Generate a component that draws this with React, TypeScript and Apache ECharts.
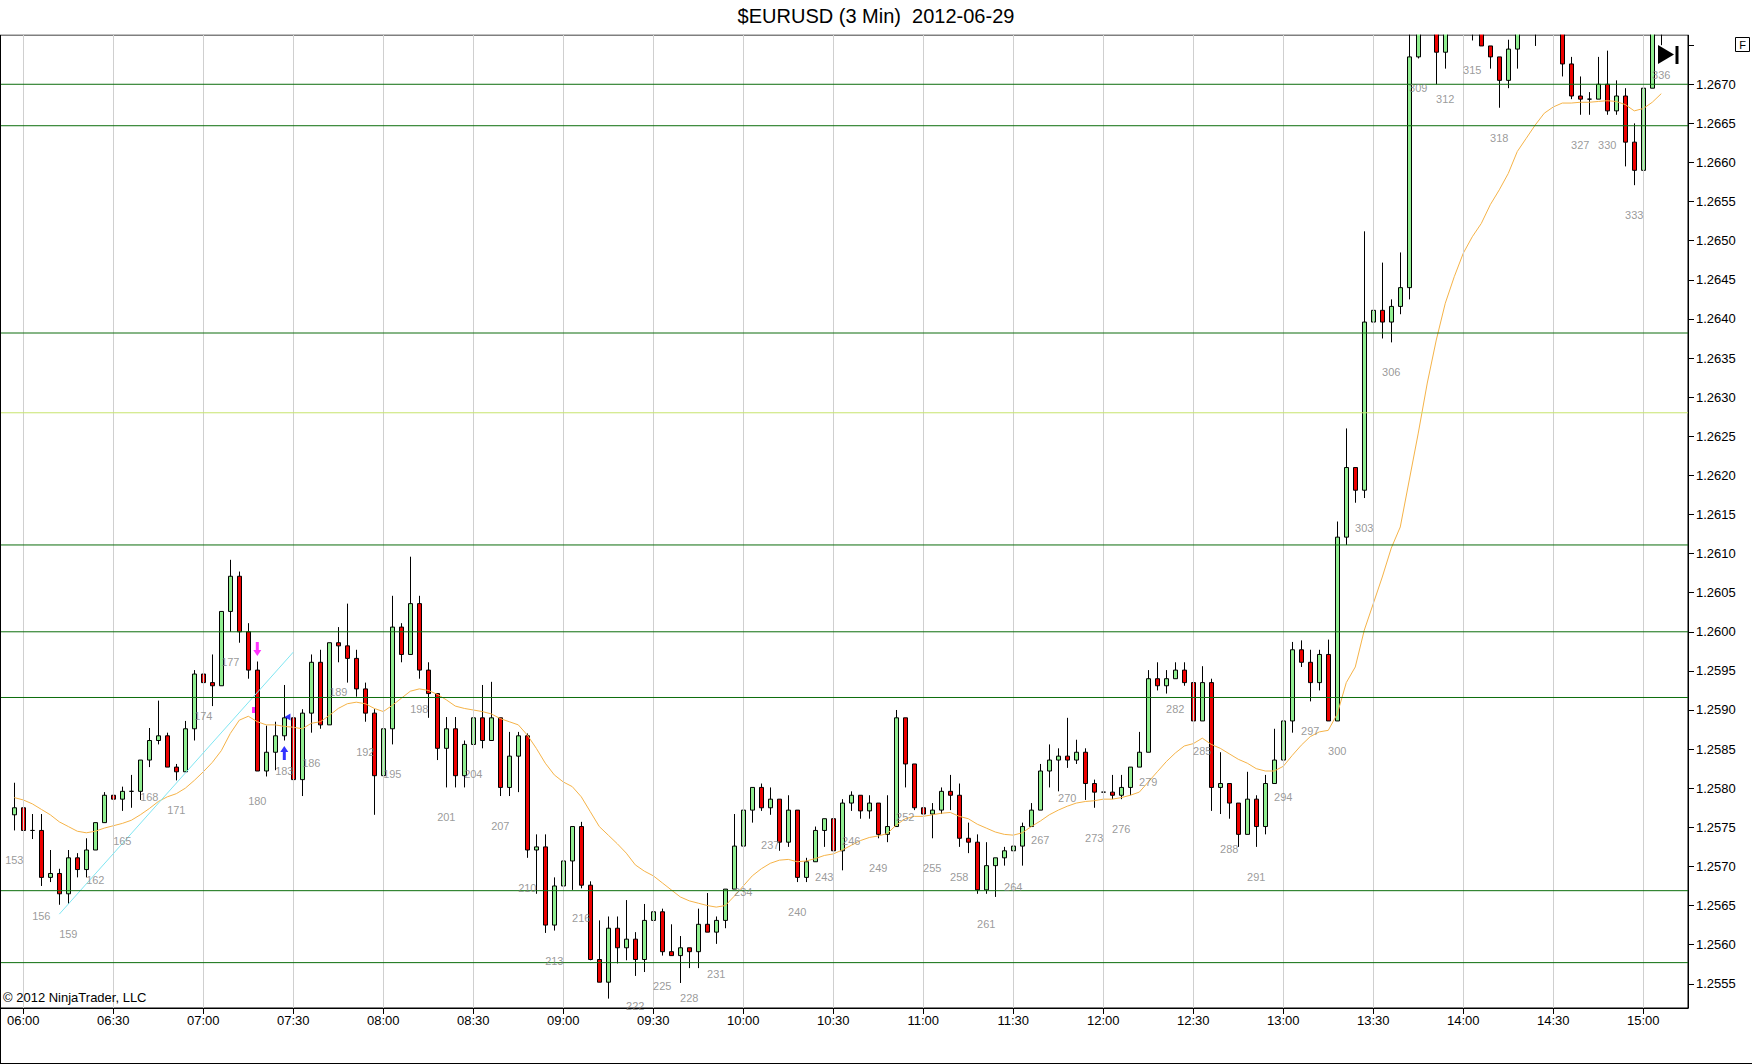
import React, { useEffect, useRef } from "react";
import * as echarts from "echarts";

// ---------- DATA ----------
const FIRST_BAR = 153;

const barOpen = [
  1.25766, 1.25775, 1.25746, 1.25746, 1.25686, 1.25691, 1.25665, 1.25711, 1.25696, 1.25721,
  1.25756, 1.25791, 1.25786, 1.25796, 1.25796, 1.25836, 1.25861, 1.25867, 1.25827, 1.25821,
  1.25876, 1.25946, 1.25935, 1.25931, 1.26026, 1.26071, 1.26000, 1.25951, 1.25822, 1.25846,
  1.25867, 1.25890, 1.25811, 1.25896, 1.25961, 1.25881, 1.25986, 1.25982, 1.25966, 1.25927,
  1.25896, 1.25816, 1.25876, 1.26006, 1.25971, 1.26036, 1.25951, 1.25921, 1.25851, 1.25876,
  1.25816, 1.25856, 1.25890, 1.25861, 1.25890, 1.25801, 1.25841, 1.25867, 1.25721, 1.25725,
  1.25625, 1.25675, 1.25707, 1.25751, 1.25676, 1.25581, 1.25552, 1.25621, 1.25596, 1.25607,
  1.25581, 1.25631, 1.25642, 1.25591, 1.25586, 1.25596, 1.25591, 1.25626, 1.25616, 1.25631,
  1.25671, 1.25726, 1.25772, 1.25801, 1.25775, 1.25786, 1.25731, 1.25772, 1.25686, 1.25706,
  1.25746, 1.25761, 1.25720, 1.25781, 1.25791, 1.25771, 1.25781, 1.25741, 1.25751, 1.25890,
  1.25831, 1.25775, 1.25767, 1.25772, 1.25796, 1.25791, 1.25736, 1.25731, 1.25670, 1.25701,
  1.25711, 1.25720, 1.25726, 1.25751, 1.25772, 1.25822, 1.25836, 1.25841, 1.25836, 1.25846,
  1.25806, 1.25795, 1.25795, 1.25791, 1.25801, 1.25827, 1.25846, 1.25940, 1.25931, 1.25940,
  1.25951, 1.25935, 1.25886, 1.25935, 1.25801, 1.25806, 1.25781, 1.25741, 1.25786, 1.25751,
  1.25806, 1.25836, 1.25886, 1.25977, 1.25961, 1.25935, 1.25971, 1.25886, 1.26121, 1.26210,
  1.26181, 1.26396, 1.26411, 1.26396, 1.26416, 1.26440, 1.26735, 1.26790, 1.26810, 1.26741,
  1.26780, 1.26800, 1.26790, 1.26775, 1.26749, 1.26735, 1.26705, 1.26745, 1.26765, 1.26780,
  1.26775, 1.26785, 1.26790, 1.26726, 1.26685, 1.26681, 1.26681, 1.26700, 1.26666, 1.26685,
  1.26626, 1.26590, 1.26695, 1.26770,
];

const barClose = [
  1.25775, 1.25746, 1.25746, 1.25686, 1.25691, 1.25665, 1.25711, 1.25696, 1.25721, 1.25756,
  1.25791, 1.25786, 1.25796, 1.25796, 1.25836, 1.25861, 1.25867, 1.25827, 1.25821, 1.25876,
  1.25946, 1.25935, 1.25931, 1.26026, 1.26071, 1.26000, 1.25951, 1.25822, 1.25846, 1.25867,
  1.25890, 1.25811, 1.25896, 1.25961, 1.25881, 1.25986, 1.25982, 1.25966, 1.25927, 1.25896,
  1.25816, 1.25876, 1.26006, 1.25971, 1.26036, 1.25951, 1.25921, 1.25851, 1.25876, 1.25816,
  1.25856, 1.25890, 1.25861, 1.25890, 1.25801, 1.25841, 1.25867, 1.25721, 1.25725, 1.25625,
  1.25675, 1.25707, 1.25751, 1.25676, 1.25581, 1.25552, 1.25621, 1.25596, 1.25607, 1.25581,
  1.25631, 1.25642, 1.25591, 1.25586, 1.25596, 1.25591, 1.25626, 1.25616, 1.25631, 1.25671,
  1.25726, 1.25772, 1.25801, 1.25775, 1.25786, 1.25731, 1.25772, 1.25686, 1.25706, 1.25746,
  1.25761, 1.25720, 1.25781, 1.25791, 1.25771, 1.25781, 1.25741, 1.25751, 1.25890, 1.25831,
  1.25775, 1.25767, 1.25772, 1.25796, 1.25791, 1.25736, 1.25731, 1.25670, 1.25701, 1.25711,
  1.25720, 1.25726, 1.25751, 1.25772, 1.25822, 1.25836, 1.25841, 1.25836, 1.25846, 1.25806,
  1.25795, 1.25795, 1.25791, 1.25801, 1.25827, 1.25846, 1.25940, 1.25931, 1.25940, 1.25951,
  1.25935, 1.25886, 1.25935, 1.25801, 1.25806, 1.25781, 1.25741, 1.25786, 1.25751, 1.25806,
  1.25836, 1.25886, 1.25977, 1.25961, 1.25935, 1.25971, 1.25886, 1.26121, 1.26210, 1.26181,
  1.26396, 1.26411, 1.26396, 1.26416, 1.26440, 1.26735, 1.26790, 1.26810, 1.26741, 1.26780,
  1.26800, 1.26790, 1.26775, 1.26749, 1.26735, 1.26705, 1.26745, 1.26765, 1.26780, 1.26775,
  1.26785, 1.26790, 1.26726, 1.26685, 1.26681, 1.26681, 1.26700, 1.26666, 1.26685, 1.26626,
  1.26590, 1.26695, 1.26770, 1.26780,
];

const barHigh = [
  1.25807, 1.25776, 1.25767, 1.25767, 1.25721, 1.25697, 1.25721, 1.25717, 1.25736, 1.25756,
  1.25795, 1.25822, 1.25802, 1.25817, 1.25836, 1.25877, 1.25912, 1.25871, 1.25831, 1.25886,
  1.25951, 1.26000, 1.25971, 1.26026, 1.26092, 1.26077, 1.26011, 1.25962, 1.25880, 1.25885,
  1.25932, 1.25893, 1.25901, 1.25971, 1.25977, 1.25986, 1.26006, 1.26036, 1.25977, 1.25935,
  1.25901, 1.25900, 1.26046, 1.26011, 1.26096, 1.26046, 1.25961, 1.25921, 1.25891, 1.25891,
  1.25861, 1.25902, 1.25932, 1.25936, 1.25890, 1.25872, 1.25872, 1.25870, 1.25741, 1.25741,
  1.25686, 1.25717, 1.25751, 1.25757, 1.25681, 1.25631, 1.25636, 1.25636, 1.25657, 1.25616,
  1.25652, 1.25677, 1.25646, 1.25626, 1.25611, 1.25596, 1.25646, 1.25666, 1.25636, 1.25671,
  1.25767, 1.25781, 1.25801, 1.25806, 1.25801, 1.25786, 1.25791, 1.25772, 1.25711, 1.25751,
  1.25761, 1.25772, 1.25786, 1.25796, 1.25791, 1.25791, 1.25781, 1.25791, 1.25900, 1.25890,
  1.25831, 1.25791, 1.25781, 1.25801, 1.25817, 1.25806, 1.25756, 1.25741, 1.25731, 1.25711,
  1.25725, 1.25741, 1.25756, 1.25781, 1.25831, 1.25856, 1.25851, 1.25890, 1.25862, 1.25851,
  1.25811, 1.25806, 1.25817, 1.25817, 1.25827, 1.25872, 1.25951, 1.25961, 1.25951, 1.25961,
  1.25961, 1.25940, 1.25956, 1.25940, 1.25846, 1.25806, 1.25781, 1.25821, 1.25791, 1.25817,
  1.25876, 1.25891, 1.25987, 1.25989, 1.25977, 1.25977, 1.25990, 1.26141, 1.26260, 1.26210,
  1.26512, 1.26467, 1.26472, 1.26425, 1.26485, 1.26775, 1.26800, 1.26830, 1.26820, 1.26790,
  1.26815, 1.26820, 1.26800, 1.26785, 1.26749, 1.26735, 1.26757, 1.26775, 1.26790, 1.26795,
  1.26800, 1.26805, 1.26800, 1.26735, 1.26710, 1.26690, 1.26735, 1.26743, 1.26705, 1.26695,
  1.26650, 1.26721, 1.26780, 1.26790,
];

const barLow = [
  1.25746, 1.25741, 1.25735, 1.25675, 1.25680, 1.25651, 1.25652, 1.25686, 1.25686, 1.25721,
  1.25756, 1.25775, 1.25771, 1.25775, 1.25785, 1.25827, 1.25856, 1.25827, 1.25810, 1.25821,
  1.25861, 1.25931, 1.25905, 1.25931, 1.26000, 1.25986, 1.25940, 1.25822, 1.25815, 1.25823,
  1.25861, 1.25806, 1.25790, 1.25871, 1.25876, 1.25881, 1.25961, 1.25935, 1.25917, 1.25885,
  1.25766, 1.25810, 1.25856, 1.25961, 1.25971, 1.25940, 1.25890, 1.25836, 1.25801, 1.25801,
  1.25801, 1.25856, 1.25851, 1.25861, 1.25790, 1.25790, 1.25795, 1.25711, 1.25665, 1.25615,
  1.25618, 1.25670, 1.25670, 1.25672, 1.25580, 1.25552, 1.25531, 1.25576, 1.25580, 1.25560,
  1.25565, 1.25616, 1.25586, 1.25586, 1.25551, 1.25570, 1.25570, 1.25616, 1.25601, 1.25621,
  1.25671, 1.25706, 1.25756, 1.25771, 1.25766, 1.25720, 1.25725, 1.25680, 1.25680, 1.25706,
  1.25725, 1.25701, 1.25695, 1.25771, 1.25761, 1.25761, 1.25736, 1.25731, 1.25751, 1.25801,
  1.25772, 1.25756, 1.25736, 1.25767, 1.25772, 1.25725, 1.25717, 1.25665, 1.25665, 1.25661,
  1.25701, 1.25712, 1.25701, 1.25751, 1.25772, 1.25801, 1.25796, 1.25826, 1.25831, 1.25785,
  1.25775, 1.25781, 1.25786, 1.25786, 1.25791, 1.25827, 1.25846, 1.25925, 1.25921, 1.25940,
  1.25931, 1.25866, 1.25886, 1.25771, 1.25767, 1.25761, 1.25725, 1.25741, 1.25725, 1.25741,
  1.25806, 1.25827, 1.25871, 1.25955, 1.25911, 1.25925, 1.25886, 1.25886, 1.26111, 1.26165,
  1.26171, 1.26374, 1.26375, 1.26370, 1.26406, 1.26425, 1.26733, 1.26775, 1.26700, 1.26720,
  1.26770, 1.26775, 1.26756, 1.26749, 1.26720, 1.26670, 1.26695, 1.26720, 1.26765, 1.26749,
  1.26768, 1.26774, 1.26710, 1.26681, 1.26661, 1.26661, 1.26681, 1.26661, 1.26661, 1.26595,
  1.26571, 1.26579, 1.26695, 1.26750,
];

const maValues = [
  1.25788, 1.25785, 1.25780, 1.25773, 1.25766, 1.25757, 1.25751, 1.25745, 1.25743, 1.25745,
  1.25749, 1.25752, 1.25755, 1.25759, 1.25766, 1.25774, 1.25783, 1.25789, 1.25793, 1.25800,
  1.25810, 1.25821, 1.25833, 1.25848, 1.25870, 1.25887, 1.25892, 1.25885, 1.25881, 1.25881,
  1.25879, 1.25878, 1.25876, 1.25883, 1.25885, 1.25893, 1.25902, 1.25908, 1.25910, 1.25908,
  1.25902, 1.25898, 1.25906, 1.25915, 1.25924, 1.25927, 1.25925, 1.25920, 1.25913, 1.25905,
  1.25902, 1.25900, 1.25898, 1.25895, 1.25889, 1.25885, 1.25881, 1.25868, 1.25851, 1.25832,
  1.25817, 1.25808, 1.25802, 1.25789, 1.25770, 1.25751, 1.25740, 1.25729, 1.25717, 1.25702,
  1.25694, 1.25688, 1.25679, 1.25670, 1.25661, 1.25656, 1.25653, 1.25650, 1.25648, 1.25650,
  1.25662, 1.25675, 1.25688, 1.25697, 1.25704, 1.25708, 1.25709, 1.25706, 1.25707, 1.25710,
  1.25714, 1.25716, 1.25721, 1.25727, 1.25733, 1.25737, 1.25739, 1.25742, 1.25753, 1.25761,
  1.25764, 1.25764, 1.25766, 1.25768, 1.25769, 1.25764, 1.25761, 1.25754, 1.25749, 1.25744,
  1.25741, 1.25740, 1.25743, 1.25751, 1.25758, 1.25766, 1.25772, 1.25777, 1.25781, 1.25783,
  1.25784, 1.25786, 1.25786, 1.25788, 1.25791, 1.25795, 1.25808, 1.25821, 1.25834, 1.25845,
  1.25854, 1.25857, 1.25864, 1.25856, 1.25851, 1.25844, 1.25837, 1.25832, 1.25825, 1.25822,
  1.25822, 1.25828, 1.25842, 1.25855, 1.25866, 1.25872, 1.25874, 1.25895, 1.25935, 1.25955,
  1.26002, 1.26036, 1.26070, 1.26107, 1.26134, 1.26194, 1.26254, 1.26318, 1.26373, 1.26420,
  1.26454, 1.26484, 1.26505, 1.26522, 1.26546, 1.26565, 1.26586, 1.26614, 1.26631, 1.26648,
  1.26663, 1.26671, 1.26676, 1.26676, 1.26677, 1.26677, 1.26678, 1.26679, 1.26678, 1.26674,
  1.26666, 1.26669, 1.26677, 1.26688,
];

// time axis: bar number of each half hour and its label
const gridBars = [154, 164, 174, 184, 194, 204, 214, 224, 234, 244, 254, 264, 274, 284, 294, 304, 314, 324, 334];
const timeLabels = ["06:00", "06:30", "07:00", "07:30", "08:00", "08:30", "09:00", "09:30", "10:00", "10:30",
  "11:00", "11:30", "12:00", "12:30", "13:00", "13:30", "14:00", "14:30", "15:00"];

// price axis
const yTickValues = [1.2555, 1.2560, 1.2565, 1.2570, 1.2575, 1.2580, 1.2585, 1.2590, 1.2595, 1.2600,
  1.2605, 1.2610, 1.2615, 1.2620, 1.2625, 1.2630, 1.2635, 1.2640, 1.2645, 1.2650, 1.2655, 1.2660,
  1.2665, 1.2670, 1.2675];
const yLabelValues = [1.2555, 1.2560, 1.2565, 1.2570, 1.2575, 1.2580, 1.2585, 1.2590, 1.2595, 1.2600,
  1.2605, 1.2610, 1.2615, 1.2620, 1.2625, 1.2630, 1.2635, 1.2640, 1.2645, 1.2650, 1.2655, 1.2660,
  1.2665, 1.2670];
const Y_MIN = 1.25519;
const Y_MAX = 1.26763;
const X_MIN = 151.41;
const X_MAX = 338.97;
const LABEL_OFFSET_PX = 30;
const PX_PER_UNIT = 78200;

// horizontal drawn levels
const levelValues = [1.26700, 1.26647, 1.26382, 1.26280, 1.26111, 1.26000, 1.25916, 1.25669, 1.25577];
const levelColors = ["#0c6d0c", "#0c6d0c", "#0c6d0c", "#c8e46e", "#0c6d0c", "#0c6d0c", "#0c6d0c", "#0c6d0c", "#0c6d0c"];

// trend line
const trendBars = [158, 184];
const trendValues = [1.25639, 1.25974];

// signal markers
const signalBars = [180, 179.58, 183, 183.35];
const signalValues = [1.25978, 1.25900, 1.25845, 1.25891];
const signalKinds = ["down", "rect", "up", "tri"];
const signalColors = ["#ff00ff", "#ff00ff", "#0000ff", "#0000ff"];

const FONT = "'Liberation Sans', Arial, Helvetica, sans-serif";

const symbolFor: Record<string, { symbol: string; size: number[] }> = {
  down: { symbol: "path://M2.5,0L5.5,0L5.5,8L8,8L4,14L0,8L2.5,8Z", size: [8, 14] },
  up: { symbol: "path://M4,0L8,6L5.5,6L5.5,14L2.5,14L2.5,6L0,6Z", size: [8, 14] },
  tri: { symbol: "path://M0,3.5L6,0L6,7Z", size: [6, 7] },
  rect: { symbol: "rect", size: [3, 6] },
};

export default function App() {
  const ref = useRef<HTMLDivElement>(null);

  useEffect(() => {
    if (!ref.current) return;
    const chart = echarts.init(ref.current, undefined, { renderer: "svg" });

    const candles = barOpen.map((o, i) => [FIRST_BAR + i, o, barClose[i], barLow[i], barHigh[i]]);
    const ma = maValues.map((v, i) => [FIRST_BAR + i, v]);
    const labelLimit = Y_MIN + LABEL_OFFSET_PX / PX_PER_UNIT;
    const labelPts = barLow
      .map((l, i) => [FIRST_BAR + i, l])
      .filter((p) => (p[0] as number) % 3 === 0 && (p[1] as number) >= labelLimit);
    const trend = trendBars.map((b, i) => [b, trendValues[i]]);
    const signals = signalBars.map((b, i) => ({
      value: [b, signalValues[i]],
      symbol: symbolFor[signalKinds[i]].symbol,
      symbolSize: symbolFor[signalKinds[i]].size,
      itemStyle: { color: signalColors[i] },
    }));

    const levelSeries = levelValues.map((v, i) => ({
      name: "level" + i,
      type: "line",
      data: [[X_MIN, v], [X_MAX, v]],
      z: 6,
      silent: true,
      symbol: "none",
      showSymbol: false,
      lineStyle: { color: levelColors[i], width: 1 },
    }));

    chart.setOption({
      animation: false,
      backgroundColor: "#ffffff",
      title: {
        text: "$EURUSD (3 Min)  2012-06-29",
        left: "center",
        top: 6,
        padding: 0,
        z: 300,
        textStyle: { fontFamily: FONT, fontSize: 20, fontWeight: "normal", color: "#000" },
      },
      grid: {
        left: 0,
        right: 64,
        top: 35,
        bottom: 56,
        show: true,
        borderColor: "#000",
        borderWidth: 1,
        backgroundColor: "transparent",
      },
      xAxis: {
        type: "value",
        min: X_MIN,
        max: X_MAX,
        axisLine: { show: true, lineStyle: { color: "#000", width: 1 } },
        axisTick: { show: true, length: 6, customValues: gridBars, lineStyle: { color: "#000" } },
        axisLabel: {
          show: true,
          customValues: gridBars,
          margin: 6,
          fontFamily: FONT,
          fontSize: 13,
          color: "#000",
          formatter: (v: number) => {
            const idx = gridBars.indexOf(Math.round(v));
            return idx >= 0 ? timeLabels[idx] : "";
          },
        },
        splitLine: { show: false },
      },
      yAxis: {
        type: "value",
        position: "right",
        min: Y_MIN,
        max: Y_MAX,
        axisLine: { show: true, lineStyle: { color: "#000", width: 1 } },
        axisTick: { show: true, length: 6, customValues: yTickValues, lineStyle: { color: "#000" } },
        axisLabel: {
          show: true,
          customValues: yLabelValues,
          margin: 8,
          fontFamily: FONT,
          fontSize: 13,
          color: "#000",
          formatter: (v: number) => v.toFixed(4),
        },
        splitLine: { show: false },
      },
      series: [
        {
          name: "grid",
          type: "line",
          data: [],
          z: 1,
          silent: true,
          markLine: {
            silent: true,
            animation: false,
            symbol: ["none", "none"],
            label: { show: false },
            lineStyle: { color: "#cfcfcf", width: 1, type: "solid" },
            data: gridBars.map((b) => ({ xAxis: b })),
          },
        },
        {
          name: "price",
          type: "candlestick",
          data: candles,
          encode: { x: 0, y: [1, 2, 3, 4] },
          barWidth: 5,
          z: 3,
          clip: true,
          itemStyle: {
            color: "#90ee90",
            color0: "#ee0000",
            borderColor: "#000000",
            borderColor0: "#000000",
            borderWidth: 1,
          },
        },
        {
          name: "MA",
          type: "line",
          data: ma,
          z: 4,
          symbol: "none",
          showSymbol: false,
          clip: true,
          lineStyle: { color: "#f5b348", width: 1 },
        },
        {
          name: "trend",
          type: "line",
          data: trend,
          z: 5,
          symbol: "none",
          showSymbol: false,
          lineStyle: { color: "#7fe6f2", width: 1 },
        },
        ...levelSeries,
        {
          name: "barNumbers",
          type: "scatter",
          data: labelPts,
          z: 7,
          symbolSize: 1,
          clip: true,
          itemStyle: { color: "rgba(0,0,0,0)" },
          label: {
            show: true,
            position: "inside",
            offset: [0, LABEL_OFFSET_PX],
            formatter: (p: any) => String(p.value[0]),
            fontFamily: FONT,
            fontSize: 11,
            color: "#808080",
          },
        },
        {
          name: "signals",
          type: "scatter",
          data: signals,
          z: 8,
        },
      ],
      graphic: [
        {
          // mask for candles that run above the plot's top edge
          type: "rect",
          shape: { x: 0, y: 0, width: 1690, height: 34.4 },
          style: { fill: "#ffffff" },
          z: 200,
          silent: true,
        },
        {
          type: "text",
          left: 3,
          top: 991,
          style: { text: "© 2012 NinjaTrader, LLC", font: `13px ${FONT}`, fill: "#000" },
          z: 100,
        },
        {
          type: "line",
          shape: { x1: 0.5, y1: 35, x2: 0.5, y2: 1064 },
          style: { stroke: "#000", lineWidth: 1 },
          z: 100,
        },
        {
          type: "line",
          shape: { x1: 0, y1: 1063.5, x2: 1752, y2: 1063.5 },
          style: { stroke: "#000", lineWidth: 1 },
          z: 100,
        },
        {
          type: "rect",
          shape: { x: 1735.5, y: 37.5, width: 14, height: 14 },
          style: { fill: "#fff", stroke: "#000", lineWidth: 1 },
          z: 100,
        },
        {
          type: "text",
          x: 1742.5,
          y: 44.5,
          style: { text: "F", font: `11px ${FONT}`, fill: "#000", align: "center", verticalAlign: "middle" },
          z: 101,
        },
        {
          type: "polygon",
          shape: { points: [[1658, 45], [1658, 64], [1674, 54.5]] },
          style: { fill: "#000" },
          z: 100,
        },
        {
          type: "rect",
          shape: { x: 1675.5, y: 46, width: 3, height: 18 },
          style: { fill: "#000" },
          z: 100,
        },
      ],
    });

    return () => {
      chart.dispose();
    };
  }, []);

  return (
    <div
      ref={ref}
      style={{ position: "fixed", left: 0, top: 0, width: 1752, height: 1064, background: "#fff" }}
    />
  );
}
